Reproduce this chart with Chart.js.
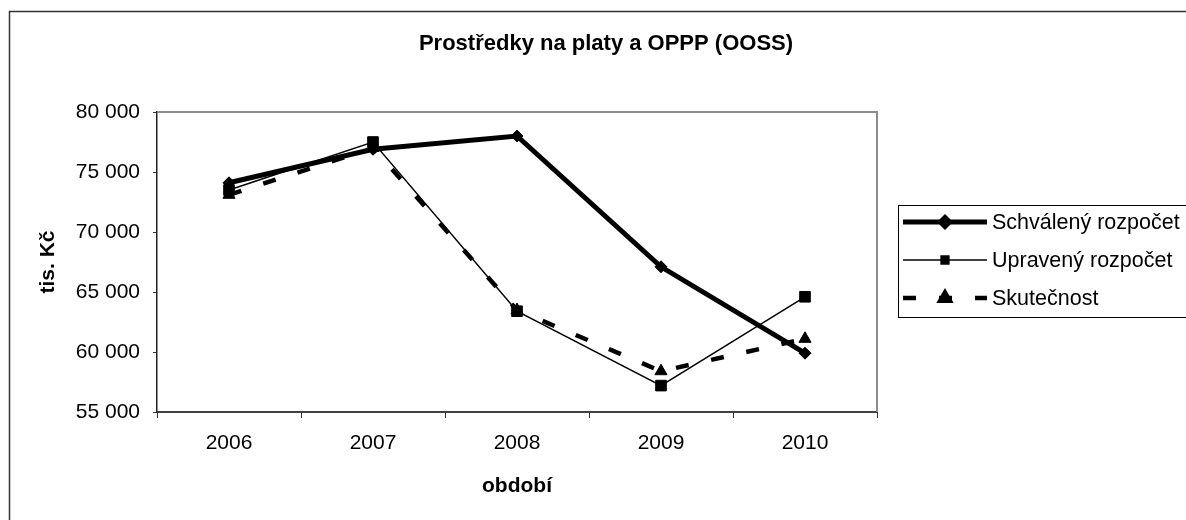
<!DOCTYPE html>
<html lang="cs">
<head>
<meta charset="UTF-8">
<title>Prostředky na platy a OPPP (OOSS)</title>
<script src="https://cdn.jsdelivr.net/npm/chart.js@4.4.0/dist/chart.umd.min.js"></script>
<style>
    body {
        margin: 0;
        background: #fff;
    }
    #wrap {
        width: 1186px;
        height: 520px;
    }
</style>
</head>
<body>
<div id="wrap"><canvas id="graf" width="1186" height="520"></canvas></div>
<script>
    // kategorie (roky)
    const roky = ['2006', '2007', '2008', '2009', '2010'];
    // hodnoty v tis. Kč
    const schvaleny = [74100, 76900, 78000, 67100, 59900];
    const upraveny = [73500, 77500, 63400, 57200, 64600];
    const skutecnost = [73100, 77000, 63500, 58400, 61100];
    // rozsah osy y
    const osaMin = 55000;
    const osaMax = 80000;
    const osaKrok = 5000;

    const nadpis = 'Prostředky na platy a OPPP (OOSS)';
    const pismo = 'Arial, "Liberation Sans", sans-serif';

    function formatCislo(v) {
        return String(v).replace(/\B(?=(\d{3})+(?!\d))/g, ' ');
    }

    // rámeček kolem celého grafu, nadpis a rámeček plochy grafu
    const ramecek = {
        id: 'ramecek',
        beforeDraw(chart) {
            const ctx = chart.ctx;
            ctx.save();
            ctx.fillStyle = '#fff';
            ctx.fillRect(0, 0, chart.width, chart.height);
            ctx.strokeStyle = '#333';
            ctx.lineWidth = 1.5;
            ctx.beginPath();
            ctx.moveTo(9.5, chart.height + 2);
            ctx.lineTo(9.5, 11.5);
            ctx.lineTo(chart.width + 2, 11.5);
            ctx.stroke();

            ctx.fillStyle = '#000';
            ctx.font = 'bold 22px ' + pismo;
            ctx.textAlign = 'center';
            ctx.textBaseline = 'middle';
            ctx.fillText(nadpis, 606, 44);
            ctx.restore();
        },
        beforeDatasetsDraw(chart) {
            const a = chart.chartArea;
            const ctx = chart.ctx;
            ctx.save();
            ctx.strokeStyle = '#8c8c8c';
            ctx.lineWidth = 2;
            ctx.beginPath();
            ctx.moveTo(a.left, a.top);
            ctx.lineTo(a.right, a.top);
            ctx.lineTo(a.right, a.bottom);
            ctx.stroke();
            ctx.restore();
        }
    };

    // legenda vpravo ve stylu Excelu
    const legenda = {
        id: 'legenda',
        afterDraw(chart) {
            const ctx = chart.ctx;
            const boxX = 898.5, boxY = 205.5, boxW = 300, boxH = 112;
            ctx.save();
            ctx.fillStyle = '#fff';
            ctx.fillRect(boxX, boxY, boxW, boxH);
            ctx.strokeStyle = '#000';
            ctx.lineWidth = 1;
            ctx.strokeRect(boxX, boxY, boxW, boxH);

            const radky = [222, 260, 298];
            chart.data.datasets.forEach((ds, i) => {
                const y = radky[i];
                ctx.save();
                ctx.strokeStyle = ds.borderColor;
                ctx.lineWidth = ds.borderWidth;
                ctx.setLineDash(ds.borderDash || []);
                ctx.lineCap = 'butt';
                ctx.beginPath();
                ctx.moveTo(903, y);
                ctx.lineTo(987, y);
                ctx.stroke();
                ctx.setLineDash([]);
                ctx.fillStyle = ds.pointBackgroundColor;
                ctx.strokeStyle = ds.pointBorderColor;
                Chart.helpers.drawPoint(ctx, {
                    pointStyle: ds.pointStyle,
                    radius: ds.legendRadius,
                    rotation: 0,
                    borderWidth: 1
                }, 945, y);
                ctx.restore();

                ctx.fillStyle = '#000';
                ctx.font = '21.5px ' + pismo;
                ctx.textBaseline = 'middle';
                ctx.textAlign = 'left';
                ctx.fillText(ds.label, 992, y + 1);
            });
            ctx.restore();
        }
    };

    const graf = new Chart(document.getElementById('graf'), {
        type: 'line',
        data: {
            labels: roky,
            datasets: [
                {
                    label: 'Schválený rozpočet',
                    data: schvaleny,
                    borderColor: '#000',
                    borderWidth: 5,
                    pointStyle: 'rectRot',
                    pointRadius: 6,
                    legendRadius: 4.5,
                    pointBackgroundColor: '#000',
                    pointBorderColor: '#000',
                    pointBorderWidth: 1,
                    tension: 0,
                    order: 3
                },
                {
                    label: 'Upravený rozpočet',
                    data: upraveny,
                    borderColor: '#000',
                    borderWidth: 1.5,
                    pointStyle: 'rect',
                    pointRadius: 7.5,
                    legendRadius: 5.5,
                    pointBackgroundColor: '#000',
                    pointBorderColor: '#000',
                    pointBorderWidth: 1,
                    tension: 0,
                    order: 2
                },
                {
                    label: 'Skutečnost',
                    data: skutecnost,
                    borderColor: '#000',
                    borderWidth: 4.5,
                    borderDash: [13, 23],
                    pointStyle: 'triangle',
                    pointRadius: 7,
                    legendRadius: 5.5,
                    pointBackgroundColor: '#000',
                    pointBorderColor: '#000',
                    pointBorderWidth: 1,
                    tension: 0,
                    order: 1
                }
            ]
        },
        options: {
            responsive: false,
            animation: false,
            layout: {
                padding: { left: 26, right: 309, top: 112, bottom: 0 }
            },
            plugins: {
                legend: { display: false },
                tooltip: { enabled: false },
                title: { display: false }
            },
            scales: {
                x: {
                    offset: true,
                    grid: {
                        offset: true,
                        drawOnChartArea: false,
                        tickLength: 6,
                        tickColor: '#333',
                        tickWidth: 1
                    },
                    border: { color: '#404040', width: 2 },
                    ticks: {
                        color: '#000',
                        font: { family: pismo, size: 21 },
                        padding: 13,
                        maxRotation: 0
                    },
                    title: {
                        display: true,
                        text: 'období',
                        color: '#000',
                        font: { family: pismo, size: 21, weight: 'bold' },
                        padding: { top: 0, bottom: 21 }
                    },
                    afterFit(s) { s.height = 108; }
                },
                y: {
                    min: osaMin,
                    max: osaMax,
                    grid: {
                        drawOnChartArea: false,
                        tickLength: 4,
                        tickColor: '#333',
                        tickWidth: 1
                    },
                    border: { color: '#222', width: 1.5 },
                    ticks: {
                        stepSize: osaKrok,
                        color: '#000',
                        font: { family: pismo, size: 21 },
                        padding: 13,
                        callback: v => formatCislo(v)
                    },
                    title: {
                        display: true,
                        text: 'tis. Kč',
                        color: '#000',
                        font: { family: pismo, size: 21, weight: 'bold' },
                        padding: { top: 10, bottom: 0 }
                    },
                    afterFit(s) { s.width = 131; }
                }
            }
        },
        plugins: [ramecek, legenda]
    });
</script>
</body>
</html>
